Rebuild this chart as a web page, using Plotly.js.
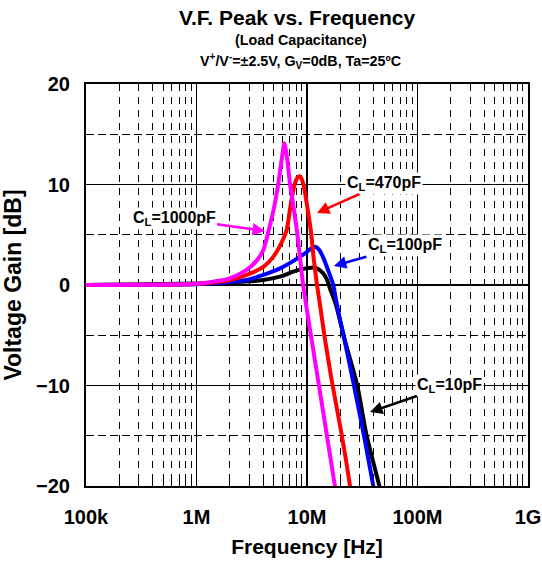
<!DOCTYPE html>
<html>
<head>
<meta charset="utf-8">
<script src="https://cdn.plot.ly/plotly-3.0.1.min.js"></script>
<style>html,body{margin:0;padding:0;background:#fff;}#chart{width:542px;height:562px;}</style>
</head>
<body>
<div id="chart"></div>
<script>
// ---- data (frequency in Hz, gain in dB) ----
const freq10 = [1e5, 3.16e5, 1e6, 2.0e6, 4.03e6, 5.7e6, 8.07e6, 1.028e7, 1.148e7, 1.259e7, 1.406e7, 1.514e7, 1.614e7, 1.82e7, 1.995e7, 2.213e7, 2.85e7, 3.467e7, 4.519e7, 4.73e7];
const gain10 = [0, 0.05, 0.15, 0.25, 0.5, 0.83, 1.45, 1.7, 1.75, 1.6, 1.15, 0.55, -0.35, -1.9, -3.6, -5.6, -10, -15, -20, -21];

const freq100 = [1e5, 3.16e5, 1e6, 1.42e6, 2.0e6, 2.84e6, 4.03e6, 5.7e6, 8.07e6, 1e7, 1.096e7, 1.189e7, 1.288e7, 1.38e7, 1.479e7, 1.585e7, 1.73e7, 1.811e7, 1.995e7, 2.188e7, 2.661e7, 3.281e7, 3.981e7, 4.169e7];
const gain100 = [0, 0.02, 0.08, 0.17, 0.3, 0.5, 1.0, 1.65, 2.6, 3.3, 3.65, 3.8, 3.5, 2.9, 2.1, 1.2, 0.0, -1.2, -3.5, -5.5, -10, -15, -20, -21];

const freq470 = [1e5, 3.16e5, 1e6, 1.41e6, 2.0e6, 2.84e6, 4.03e6, 4.95e6, 5.75e6, 6.55e6, 6.92e6, 7.35e6, 7.78e6, 8.22e6, 8.65e6, 9.12e6, 9.59e6, 1.028e7, 1.084e7, 1.148e7, 1.225e7, 1.312e7, 1.445e7, 1.671e7, 2.061e7, 2.449e7, 2.51e7];
const gain470 = [0, 0.02, 0.1, 0.25, 0.5, 1.0, 1.8, 2.8, 4.0, 5.47, 7.1, 8.9, 10.1, 10.7, 10.8, 10.3, 9.2, 7.1, 5.4, 2.7, 0.2, -2.0, -5.2, -9.45, -14.9, -20, -21];

const freq1000 = [1e5, 3.16e5, 1e6, 1.41e6, 2.0e6, 2.84e6, 3.55e6, 4.03e6, 4.47e6, 5.01e6, 5.5e6, 5.89e6, 6.24e6, 6.61e6, 7.01e6, 7.59e6, 8.13e6, 9.23e6, 1.07e7, 1.26e7, 1.51e7, 1.79e7, 1.86e7];
const gain1000 = [0, 0.02, 0.12, 0.33, 0.67, 1.5, 2.5, 3.5, 5.3, 7.6, 10.1, 12.4, 14.1, 12.6, 10.1, 7.6, 5.3, 0, -4.6, -9.45, -14.9, -20, -21];

const seriesNames = ["C<sub>L</sub>=10pF", "C<sub>L</sub>=100pF", "C<sub>L</sub>=470pF", "C<sub>L</sub>=1000pF"];
const seriesColors = ["#000000", "#0000FF", "#FF0000", "#FF00FF"];

const xTickVals = [1e5, 1e6, 1e7, 1e8, 1e9];
const xTickText = ["100k", "1M", "10M", "100M", "1G"];

// label anchor points (arrow tips) and text offsets
const labelX = [3.72e7, 1.75e7, 1.23e7, 4.17e6];
const labelY = [-12.64, 1.9, 7.16, 5.37];
const labelAx = [79, 71, 67, -91];
const labelAy = [-27, -20, -30, -13];

// minor log tick positions (2..9 per decade)
const minorX = [];
for (let d = 5; d < 9; d++) {
  for (let m = 2; m <= 9; m++) minorX.push(m * Math.pow(10, d));
}

const FONT = "Liberation Sans, Arial, Helvetica, sans-serif";
const xs = [freq10, freq100, freq470, freq1000];
const ys = [gain10, gain100, gain470, gain1000];

const traces = xs.map((x, i) => ({
  x: x, y: ys[i], type: "scatter", mode: "lines", name: seriesNames[i],
  line: {color: seriesColors[i], width: 4, shape: "spline", smoothing: 0.7},
  hoverinfo: "skip"
}));

const annotations = seriesNames.map((t, i) => ({
  x: Math.log10(labelX[i]), y: labelY[i], xref: "x", yref: "y",
  text: t, showarrow: true, ax: labelAx[i], ay: labelAy[i],
  arrowcolor: seriesColors[i], arrowwidth: 2.5, arrowhead: 2, arrowsize: 1, standoff: 0,
  bgcolor: "#FFFFFF", borderpad: 1,
  font: {family: FONT, size: 16, color: "#000000", weight: 700}
}));

annotations.push({
  xref: "paper", yref: "paper", x: 0.486, y: 1.11, xanchor: "center", yanchor: "middle",
  text: "(Load Capacitance)", showarrow: false,
  font: {family: FONT, size: 14.3, color: "#000", weight: 700}
});
annotations.push({
  xref: "paper", yref: "paper", x: 0.486, y: 1.057, xanchor: "center", yanchor: "middle",
  text: "V<sup>+</sup>/V<sup>-</sup>=±2.5V, G<sub>V</sub>=0dB, Ta=25ºC", showarrow: false,
  font: {family: FONT, size: 14.3, color: "#000", weight: 700}
});

const layout = {
  width: 542, height: 562,
  margin: {l: 86, r: 14, t: 84, b: 76},
  paper_bgcolor: "#FFFFFF", plot_bgcolor: "#FFFFFF",
  showlegend: false,
  font: {family: FONT, size: 20, color: "#000", weight: 700},
  title: {text: "V.F. Peak vs. Frequency", x: 0.548, xanchor: "center", y: 0.968, yanchor: "middle",
          font: {family: FONT, size: 21, color: "#000", weight: 700}},
  xaxis: {
    type: "log", range: [5, 9], automargin: false,
    tickmode: "array", tickvals: xTickVals, ticktext: xTickText, ticks: "",
    showgrid: true, gridcolor: "#000", gridwidth: 1.3,
    showline: true, linecolor: "#000", linewidth: 2, mirror: true, zeroline: false,
    ticklabelstandoff: 12,
    tickfont: {family: FONT, size: 20, color: "#000", weight: 700},
    minor: {tickmode: "array", tickvals: minorX, ticks: "inside", ticklen: 5, tickcolor: "#000", tickwidth: 1,
            showgrid: true, gridcolor: "#000", gridwidth: 1, griddash: "7px,6px"},
    title: {text: "Frequency [Hz]", standoff: 12, font: {family: FONT, size: 21, color: "#000", weight: 700}}
  },
  yaxis: {
    range: [-20, 20], automargin: false,
    tickmode: "linear", tick0: 0, dtick: 10, ticks: "",
    showgrid: true, gridcolor: "#000", gridwidth: 1.3,
    showline: true, linecolor: "#000", linewidth: 2, mirror: true, zeroline: false,
    ticklabelstandoff: 10,
    tickfont: {family: FONT, size: 20, color: "#000", weight: 700},
    minor: {tickmode: "linear", tick0: 5, dtick: 10, ticks: "inside", ticklen: 5, tickcolor: "#000", tickwidth: 1,
            showgrid: true, gridcolor: "#000", gridwidth: 1, griddash: "8px,4px"},
    title: {text: "Voltage Gain [dB]", standoff: 8, font: {family: FONT, size: 23, color: "#000", weight: 700}}
  },
  annotations: annotations
};

Plotly.newPlot("chart", traces, layout, {displayModeBar: false, staticPlot: true});
</script>
</body>
</html>
